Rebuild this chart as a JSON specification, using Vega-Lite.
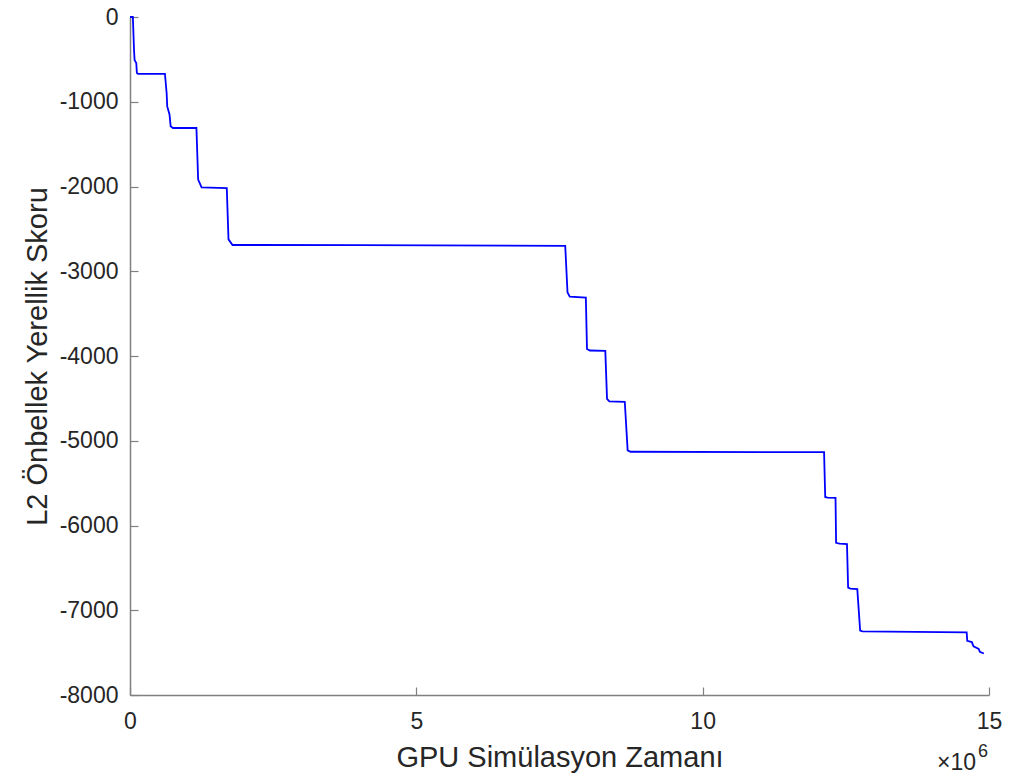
{
  "$schema": "https://vega.github.io/schema/vega-lite/v6.json",
  "width": 859,
  "height": 678,
  "autosize": {"type": "none"},
  "padding": {"left": 130, "top": 17, "right": 21, "bottom": 87},
  "background": "white",
  "config": {
    "view": {"stroke": null},
    "font": "Liberation Sans",
    "axis": {
      "grid": false,
      "domainColor": "#808080",
      "domainWidth": 1.5,
      "tickColor": "#808080",
      "tickWidth": 1.2,
      "tickSize": -8,
      "labelColor": "#262626",
      "titleColor": "#262626",
      "labelFont": "Liberation Sans",
      "titleFont": "Liberation Sans",
      "labelFontSize": 23,
      "titleFontSize": 29,
      "titleFontWeight": "normal"
    }
  },
  "data": {
    "values": [
      {"t": 0, "score": 0},
      {"t": 50000, "score": 0},
      {"t": 70000, "score": -390},
      {"t": 80000, "score": -506},
      {"t": 110000, "score": -545},
      {"t": 120000, "score": -660},
      {"t": 140000, "score": -670},
      {"t": 610000, "score": -670},
      {"t": 640000, "score": -900},
      {"t": 650000, "score": -1055},
      {"t": 690000, "score": -1150},
      {"t": 710000, "score": -1290},
      {"t": 750000, "score": -1310},
      {"t": 1160000, "score": -1310},
      {"t": 1190000, "score": -1918},
      {"t": 1250000, "score": -2010},
      {"t": 1690000, "score": -2020},
      {"t": 1720000, "score": -2624},
      {"t": 1790000, "score": -2690},
      {"t": 4000000, "score": -2692},
      {"t": 7600000, "score": -2700},
      {"t": 7640000, "score": -3251},
      {"t": 7680000, "score": -3300},
      {"t": 7960000, "score": -3310},
      {"t": 7980000, "score": -3918},
      {"t": 8030000, "score": -3935},
      {"t": 8300000, "score": -3940},
      {"t": 8330000, "score": -4506},
      {"t": 8370000, "score": -4535},
      {"t": 8640000, "score": -4540},
      {"t": 8690000, "score": -5114},
      {"t": 8740000, "score": -5130},
      {"t": 12120000, "score": -5135},
      {"t": 12140000, "score": -5663},
      {"t": 12180000, "score": -5670},
      {"t": 12320000, "score": -5675},
      {"t": 12330000, "score": -6204},
      {"t": 12390000, "score": -6215},
      {"t": 12520000, "score": -6220},
      {"t": 12540000, "score": -6733},
      {"t": 12580000, "score": -6745},
      {"t": 12700000, "score": -6750},
      {"t": 12750000, "score": -7239},
      {"t": 12790000, "score": -7250},
      {"t": 14610000, "score": -7260},
      {"t": 14620000, "score": -7361},
      {"t": 14700000, "score": -7376},
      {"t": 14730000, "score": -7427},
      {"t": 14820000, "score": -7455},
      {"t": 14840000, "score": -7490},
      {"t": 14910000, "score": -7510}
    ]
  },
  "layer": [
    {
      "mark": {"type": "line", "color": "#0000ff", "strokeWidth": 1.8, "interpolate": "linear"},
      "encoding": {
        "x": {
          "field": "t",
          "type": "quantitative",
          "scale": {"domain": [0, 15000000], "nice": false},
          "axis": {
            "values": [0, 5000000, 10000000, 15000000],
            "labelExpr": "'' + (datum.value / 1000000)",
            "labelFlush": false,
            "title": "GPU Simülasyon Zamanı",
            "labelPadding": 23,
            "titlePadding": 10
          }
        },
        "y": {
          "field": "score",
          "type": "quantitative",
          "scale": {"domain": [-8000, 0], "nice": false},
          "axis": {
            "values": [-8000, -7000, -6000, -5000, -4000, -3000, -2000, -1000, 0],
            "labelExpr": "'' + datum.value",
            "title": "L2 Önbellek Yerellik Skoru",
            "labelPadding": 20,
            "titlePadding": 7
          }
        }
      }
    },
    {
      "data": {"values": [{}]},
      "mark": {"type": "text", "text": "×10", "align": "right", "baseline": "middle", "dx": -13, "dy": 68, "fontSize": 23, "color": "#262626", "font": "Liberation Sans"},
      "encoding": {"x": {"datum": 15000000}, "y": {"datum": -8000}}
    },
    {
      "data": {"values": [{}]},
      "mark": {"type": "text", "text": "6", "align": "right", "baseline": "middle", "dx": -1, "dy": 57, "fontSize": 18, "color": "#262626", "font": "Liberation Sans"},
      "encoding": {"x": {"datum": 15000000}, "y": {"datum": -8000}}
    }
  ]
}
